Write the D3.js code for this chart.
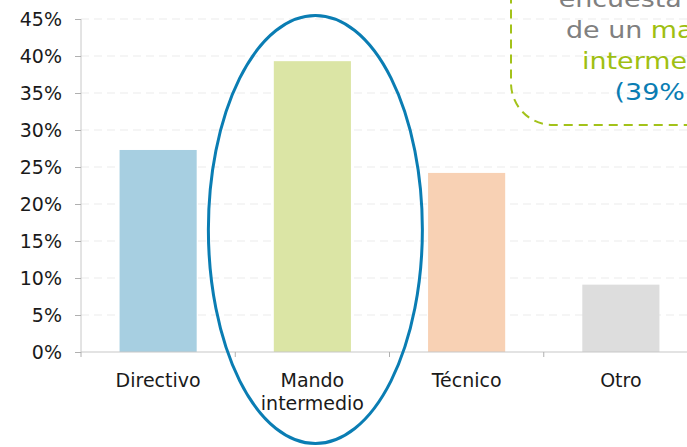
<!DOCTYPE html>
<html>
<head>
<meta charset="utf-8">
<script src="https://cdn.jsdelivr.net/npm/d3@7/dist/d3.min.js"></script>
<style>
  html, body { margin: 0; padding: 0; background: #fff; }
  svg { display: block; font-family: "DejaVu Sans", Verdana, sans-serif; }
</style>
</head>
<body>
<svg id="chart" width="687" height="447"></svg>
<script>
// Profile of respondents by position
const categories = ["Directivo", "Mando intermedio", "Técnico", "Otro"];
const values = [0.273, 0.393, 0.242, 0.091];
const barColors = ["#a7cfe1", "#dbe5a5", "#f8d1b4", "#dddddd"];
const yTicks = [0, 0.05, 0.10, 0.15, 0.20, 0.25, 0.30, 0.35, 0.40, 0.45];
const highlight = "Mando intermedio";

(function () {
  const svg = d3.select("#chart");
  const W = 687;
  const mLeft = 81, mRight = 698, mTop = 19, mBottom = 352;

  const x = d3.scaleBand().domain(categories).range([mLeft, mRight])
    .paddingInner(0.5).paddingOuter(0.25);
  const y = d3.scaleLinear().domain([0, 0.45]).range([mBottom, mTop]);

  // dashed gridlines
  svg.append("g").selectAll("line").data(yTicks.slice(1)).join("line")
    .attr("x1", mLeft).attr("x2", W)
    .attr("y1", d => y(d)).attr("y2", d => y(d))
    .attr("stroke", "#ebebeb").attr("stroke-width", 1.2)
    .attr("stroke-dasharray", "8,5");

  // bars
  svg.append("g").selectAll("rect").data(values).join("rect")
    .attr("x", (d, i) => x(categories[i]))
    .attr("width", x.bandwidth())
    .attr("y", d => y(d))
    .attr("height", d => mBottom - y(d))
    .attr("fill", (d, i) => barColors[i]);

  // y axis
  const yAxis = svg.append("g").attr("transform", `translate(${mLeft},0)`)
    .call(d3.axisLeft(y).tickValues(yTicks).tickFormat(d3.format(".0%")).tickSize(6).tickPadding(13));
  yAxis.select(".domain").attr("stroke", "#c8c8c8").attr("d", `M0,${mTop}V${mBottom}`);
  yAxis.selectAll(".tick line").attr("stroke", "#b0b0b0");
  yAxis.selectAll(".tick text").attr("font-size", 19).attr("fill", "#1a1a1a")
    .attr("font-family", "DejaVu Sans, Verdana, sans-serif");

  // x axis baseline and band separators
  const g = svg.append("g");
  g.append("line").attr("x1", mLeft).attr("x2", W).attr("y1", mBottom).attr("y2", mBottom)
    .attr("stroke", "#c8c8c8").attr("stroke-width", 1.2);
  const half = (x.step() - x.bandwidth()) / 2;
  const seps = categories.map(c => x(c) - half);
  g.selectAll("line.sep").data(seps).join("line").attr("class", "sep")
    .attr("x1", d => d).attr("x2", d => d)
    .attr("y1", mBottom).attr("y2", mBottom + 5)
    .attr("stroke", "#b0b0b0");

  // category labels (wrapped)
  const labelLines = { "Mando intermedio": ["Mando", "intermedio"] };
  categories.forEach(c => {
    const lines = labelLines[c] || [c];
    const t = g.append("text").attr("text-anchor", "middle")
      .attr("font-size", 19).attr("fill", "#1a1a1a");
    lines.forEach((ln, k) => {
      t.append("tspan").attr("x", x(c) + x.bandwidth() / 2)
        .attr("y", 387 + k * 23).text(ln);
    });
  });

  // highlight ellipse around the largest group
  const cx = x(highlight) + x.bandwidth() / 2 + 3;
  svg.append("ellipse")
    .attr("cx", cx).attr("cy", 229.5)
    .attr("rx", 107).attr("ry", 214)
    .attr("fill", "none").attr("stroke", "#0a7db3").attr("stroke-width", 3);

  // callout box
  svg.append("rect")
    .attr("x", 511).attr("y", -80).attr("width", 320).attr("height", 205)
    .attr("rx", 42).attr("ry", 42)
    .attr("fill", "none").attr("stroke", "#a3c21a").attr("stroke-width", 2)
    .attr("stroke-dasharray", "9,6");

  // callout text (slightly widened lettering)
  const note = svg.append("text")
    .attr("transform", "translate(655,0) scale(1.17,1)")
    .attr("text-anchor", "middle").attr("font-size", 23);
  note.append("tspan").attr("x", 0).attr("y", 7).attr("fill", "#808080").text("encuesta eran");
  const n2 = note.append("tspan").attr("x", 0).attr("y", 38);
  n2.append("tspan").attr("fill", "#808080").text("de un ");
  n2.append("tspan").attr("fill", "#9fbf12").text("mando");
  note.append("tspan").attr("x", 0).attr("y", 69).attr("fill", "#9fbf12").text("intermedio");
  note.append("tspan").attr("x", 0).attr("y", 100).attr("fill", "#0a7db3")
    .text(`(${d3.format(".0%")(values[categories.indexOf(highlight)])})`);
})();
</script>
</body>
</html>
